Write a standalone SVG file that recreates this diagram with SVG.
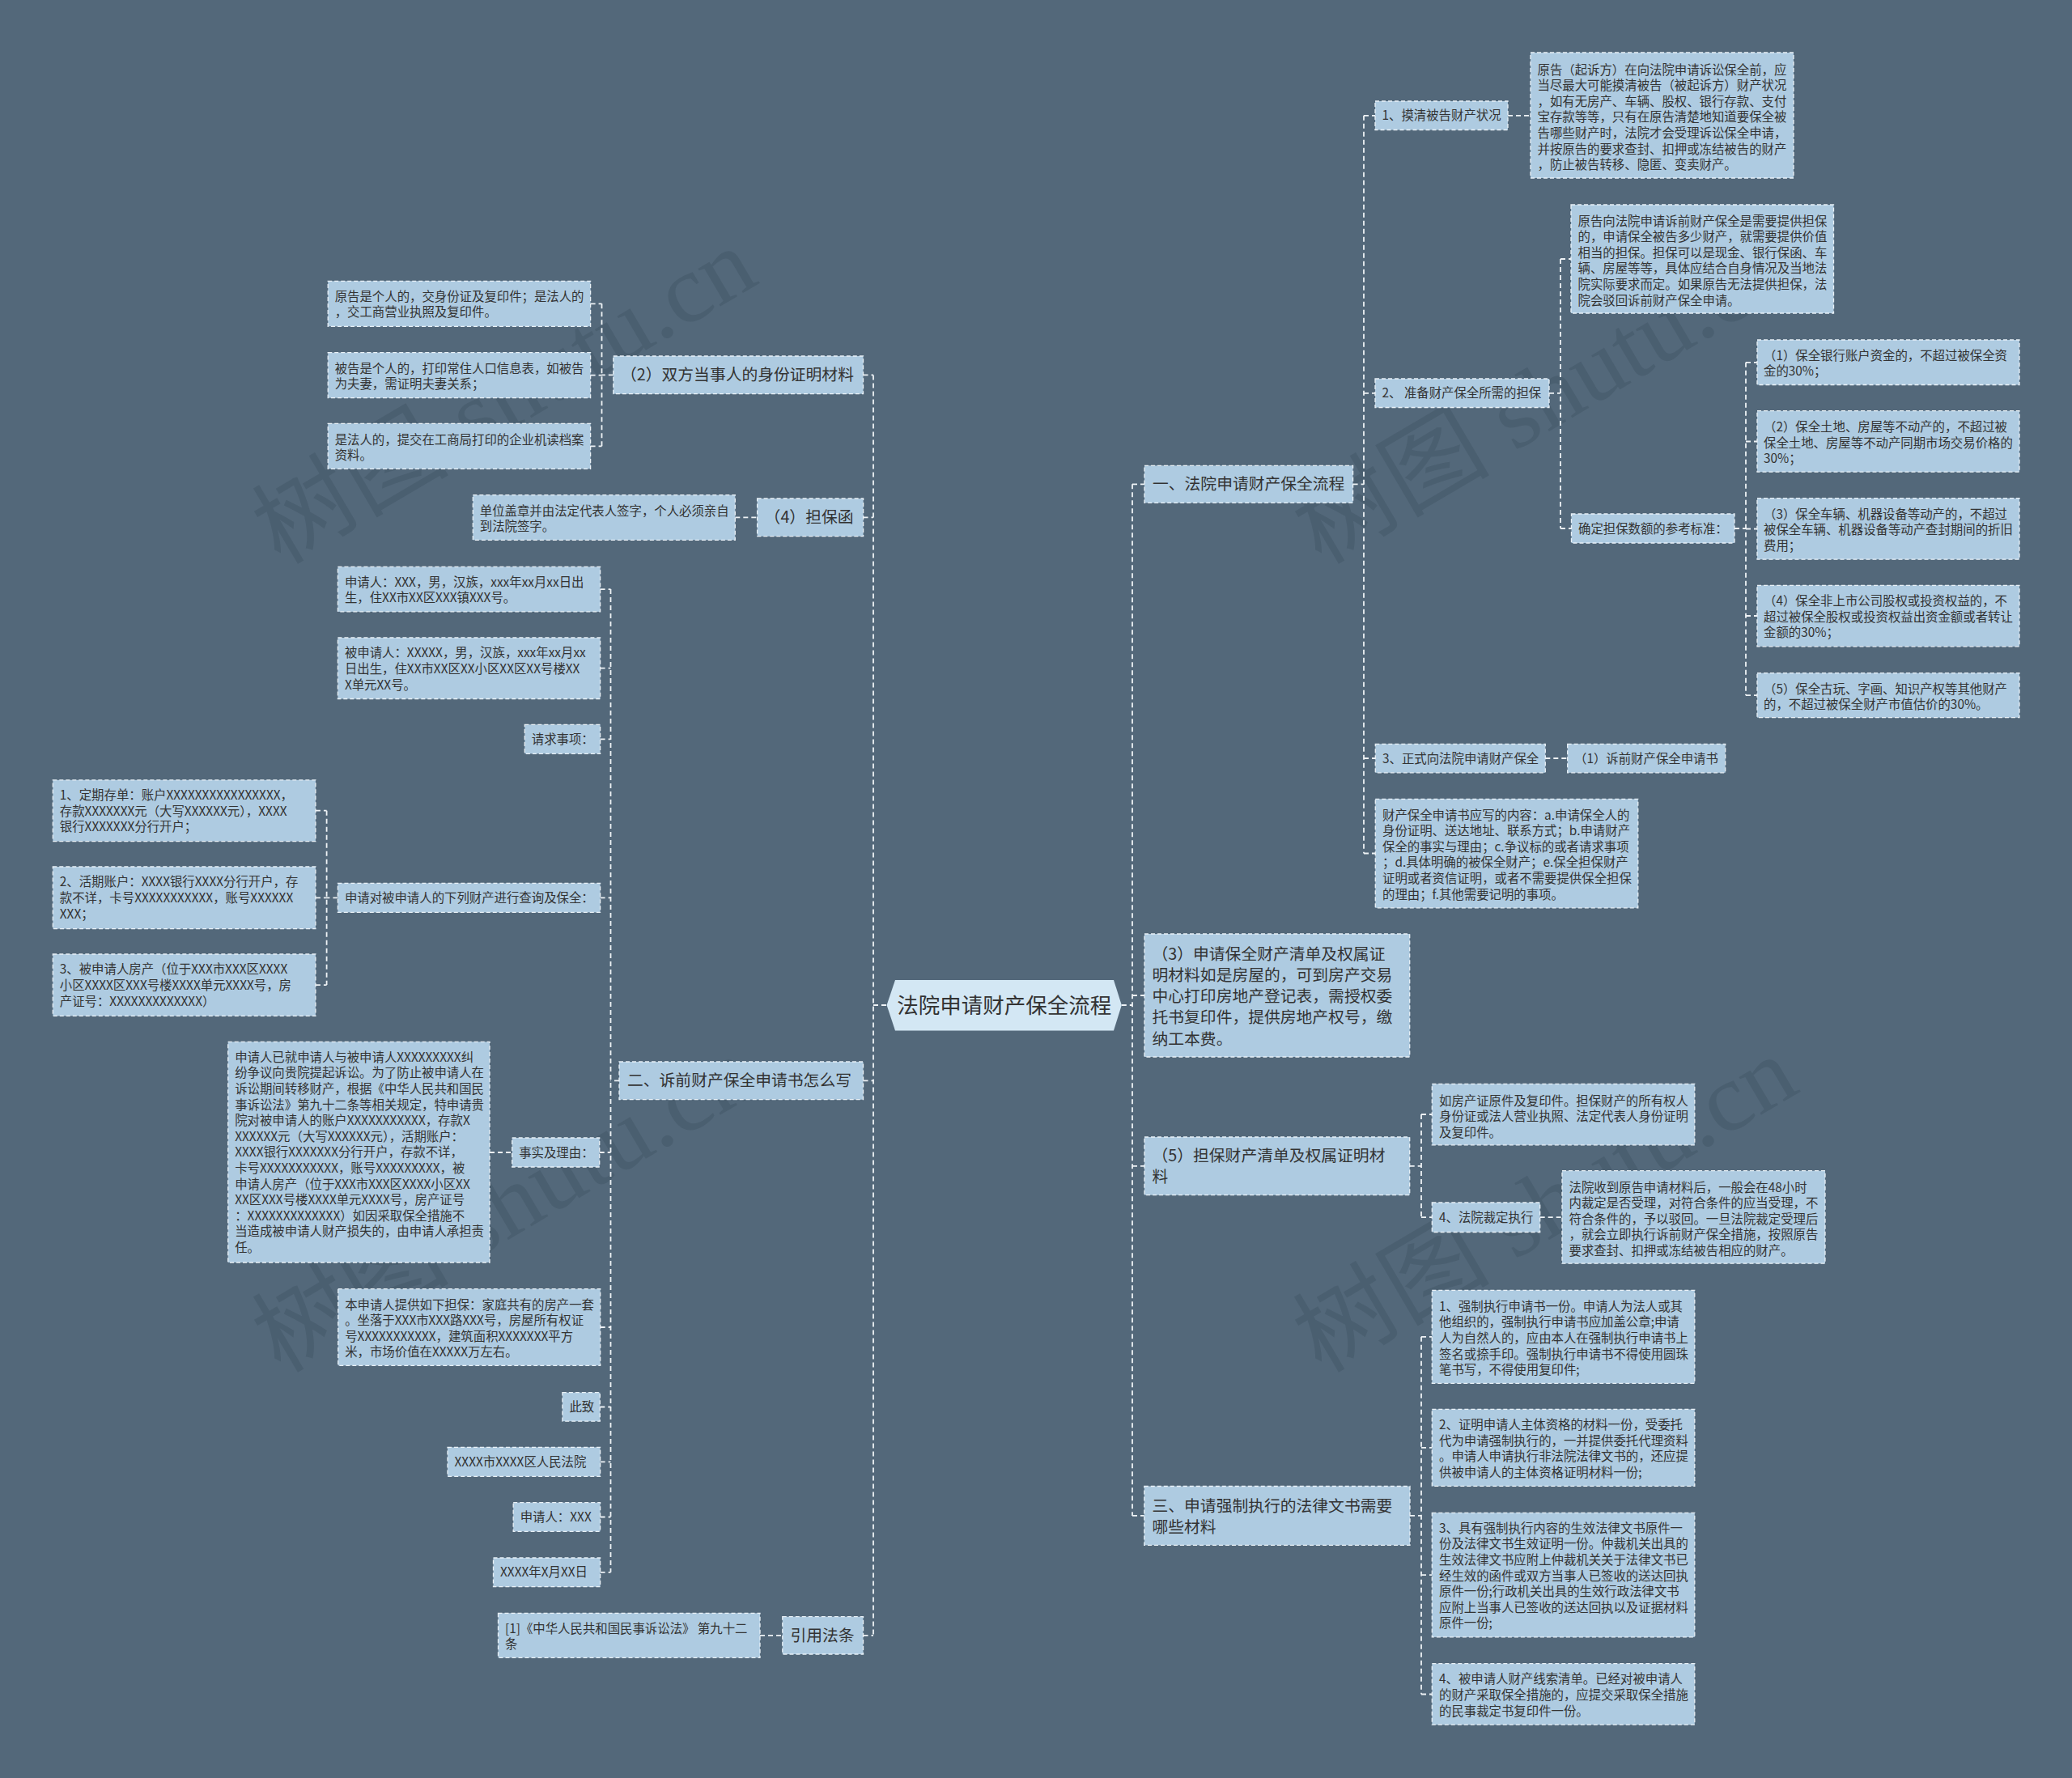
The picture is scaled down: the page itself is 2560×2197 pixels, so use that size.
<svg xmlns="http://www.w3.org/2000/svg" width="2560" height="2197" viewBox="0 0 2560 2197">
<style>
.bg{fill:#53687a}
.box{fill:#aecbe1;stroke:#e8f0f6;stroke-width:1.3;stroke-dasharray:5 3}
.ctr{fill:#d3e7f4}
.t{font-family:"Noto Sans CJK SC","Noto Sans",sans-serif;font-size:15.4px;fill:#333}
.m{font-size:19.8px}
.c{font-size:26.5px}
.ln{fill:none;stroke:#eef2f5;stroke-width:1.8;stroke-dasharray:6 4}
.wm{font-family:"Liberation Serif","Noto Sans CJK SC",serif;font-size:118px;fill:#2c3e4c;fill-opacity:0.22}
</style>
<rect class="bg" x="0" y="0" width="2560" height="2197"/>
<g id="watermarks">
<text class="wm" transform="translate(346,699) rotate(-30.5)" textLength="690" lengthAdjust="spacingAndGlyphs">树图 shutu.cn</text>
<text class="wm" transform="translate(1632,699) rotate(-30.5)" textLength="690" lengthAdjust="spacingAndGlyphs">树图 shutu.cn</text>
<text class="wm" transform="translate(346,1698) rotate(-30.5)" textLength="690" lengthAdjust="spacingAndGlyphs">树图 shutu.cn</text>
<text class="wm" transform="translate(1632,1698) rotate(-30.5)" textLength="690" lengthAdjust="spacingAndGlyphs">树图 shutu.cn</text>
</g>
<g id="connectors">
<path class="ln" d="M1079 463.4V2020.9M1066.5 463.4H1079M1066.5 639.4H1079M1066.5 1335.4H1079M1066.5 2020.9H1079M1079 1242H1095.6"/>
<path class="ln" d="M757.8 463.4H743.5M743.5 375.3V551.3M729.6 375.3H743.5M729.6 463.7H743.5M729.6 551.3H743.5"/>
<path class="ln" d="M908.3 639.4H935.6"/>
<path class="ln" d="M765 1335.4H754.5M754.5 728.1V1942.8M741.6 728.1H754.5M741.6 825.7H754.5M741.6 913.3H754.5M741.6 1109.4H754.5M740.7 1424H754.5M741.7 1640H754.5M741.3 1738.5H754.5M741.6 1806.3H754.5M741.6 1874.5H754.5M741.6 1942.8H754.5"/>
<path class="ln" d="M417.4 1109.4H403.6M403.6 1001.7V1217.1M389.9 1001.7H403.6M389.9 1109.3H403.6M389.9 1217.1H403.6"/>
<path class="ln" d="M605 1424H632.7"/>
<path class="ln" d="M939 2020.9H966.8"/>
<path class="ln" d="M1385.8 1242H1399M1399 598.3V1872.9M1399 598.3H1414M1399 1230H1414M1399 1440.8H1414M1399 1872.9H1413.8"/>
<path class="ln" d="M1671.6 598.3H1685M1685 142.8V1054.5M1685 142.8H1699M1685 485.8H1699M1685 937H1699.3M1685 1054.5H1699.3"/>
<path class="ln" d="M1863 142.8H1891"/>
<path class="ln" d="M1914 485.8H1928M1928 320V653M1928 320H1941M1928 653H1941.5"/>
<path class="ln" d="M2143 653H2157M2157 447.8V859.2M2157 447.8H2171M2157 545.5H2171M2157 653.5H2171M2157 761H2171M2157 859.2H2171"/>
<path class="ln" d="M1909.3 937H1936.7"/>
<path class="ln" d="M1741.7 1440.8H1756M1756 1377V1504.2M1756 1377H1769.3M1756 1504.2H1769.3M1902.7 1504.2H1930"/>
<path class="ln" d="M1742 1872.9H1756M1756 1651.8V2093.5M1756 1651.8H1769.3M1756 1788.9H1769.3M1756 1946.1H1769.3M1756 2093.5H1769.3"/>
</g>
<g id="center">
<polygon class="ctr" points="1095.6,1242 1106,1211 1376,1211 1385.8,1242 1376,1273.4 1106,1273.4"/>
<text class="t c" x="1240.7" y="1251.5" text-anchor="middle">法院申请财产保全流程</text>
</g>
<g id="n-yi"><rect class="box" x="1414" y="575.3" width="257.6" height="46"/><text class="t m" x="1424" y="605.3">一、法院申请财产保全流程</text></g>
<g id="n-r1"><rect class="box" x="1699" y="125" width="164" height="35.5"/><text class="t" x="1707.5" y="148.4">1、摸清被告财产状况</text></g>
<g id="n-r1a"><rect class="box" x="1891" y="65" width="325" height="155"/><text class="t" y="91.5"><tspan x="1899.5">原告（起诉方）在向法院申请诉讼保全前，应</tspan><tspan x="1899.5" dy="19.6">当尽最大可能摸清被告（被起诉方）财产状况</tspan><tspan x="1899.5" dy="19.6">，如有无房产、车辆、股权、银行存款、支付</tspan><tspan x="1899.5" dy="19.6">宝存款等等，只有在原告清楚地知道要保全被</tspan><tspan x="1899.5" dy="19.6">告哪些财产时，法院才会受理诉讼保全申请，</tspan><tspan x="1899.5" dy="19.6">并按原告的要求查封、扣押或冻结被告的财产</tspan><tspan x="1899.5" dy="19.6">，防止被告转移、隐匿、变卖财产。</tspan></text></g>
<g id="n-r2"><rect class="box" x="1699" y="468" width="215" height="35.5"/><text class="t" x="1707.5" y="491.4">2、 准备财产保全所需的担保</text></g>
<g id="n-r2a"><rect class="box" x="1941" y="253" width="324.5" height="134"/><text class="t" y="278.5"><tspan x="1949.5">原告向法院申请诉前财产保全是需要提供担保</tspan><tspan x="1949.5" dy="19.6">的，申请保全被告多少财产，就需要提供价值</tspan><tspan x="1949.5" dy="19.6">相当的担保。担保可以是现金、银行保函、车</tspan><tspan x="1949.5" dy="19.6">辆、房屋等等，具体应结合自身情况及当地法</tspan><tspan x="1949.5" dy="19.6">院实际要求而定。如果原告无法提供担保，法</tspan><tspan x="1949.5" dy="19.6">院会驳回诉前财产保全申请。</tspan></text></g>
<g id="n-r2b"><rect class="box" x="1941.5" y="635" width="201.5" height="36"/><text class="t" x="1950" y="658.6">确定担保数额的参考标准：</text></g>
<g id="n-s1"><rect class="box" x="2171" y="420" width="324" height="55.5"/><text class="t" y="444.5"><tspan x="2179">（1）保全银行账户资金的，不超过被保全资</tspan><tspan x="2179" dy="19.6">金的30%；</tspan></text></g>
<g id="n-s2"><rect class="box" x="2171" y="507.7" width="324" height="75.5"/><text class="t" y="533"><tspan x="2179">（2）保全土地、房屋等不动产的，不超过被</tspan><tspan x="2179" dy="19.6">保全土地、房屋等不动产同期市场交易价格的</tspan><tspan x="2179" dy="19.6">30%；</tspan></text></g>
<g id="n-s3"><rect class="box" x="2171" y="615.7" width="324" height="75.5"/><text class="t" y="640.8"><tspan x="2179">（3）保全车辆、机器设备等动产的，不超过</tspan><tspan x="2179" dy="19.6">被保全车辆、机器设备等动产查封期间的折旧</tspan><tspan x="2179" dy="19.6">费用；</tspan></text></g>
<g id="n-s4"><rect class="box" x="2171" y="723.3" width="324" height="75.5"/><text class="t" y="748"><tspan x="2179">（4）保全非上市公司股权或投资权益的，不</tspan><tspan x="2179" dy="19.6">超过被保全股权或投资权益出资金额或者转让</tspan><tspan x="2179" dy="19.6">金额的30%；</tspan></text></g>
<g id="n-s5"><rect class="box" x="2171" y="831.7" width="324" height="55"/><text class="t" y="856.5"><tspan x="2179">（5）保全古玩、字画、知识产权等其他财产</tspan><tspan x="2179" dy="19.6">的，不超过被保全财产市值估价的30%。</tspan></text></g>
<g id="n-r3"><rect class="box" x="1699.3" y="919.3" width="210" height="35.5"/><text class="t" x="1708" y="942.6">3、正式向法院申请财产保全</text></g>
<g id="n-r3a"><rect class="box" x="1936.7" y="919.3" width="195" height="35.5"/><text class="t" x="1945" y="942.6">（1）诉前财产保全申请书</text></g>
<g id="n-r4"><rect class="box" x="1699.3" y="987.3" width="324.5" height="134.5"/><text class="t" y="1012.5"><tspan x="1708">财产保全申请书应写的内容：a.申请保全人的</tspan><tspan x="1708" dy="19.6">身份证明、送达地址、联系方式；b.申请财产</tspan><tspan x="1708" dy="19.6">保全的事实与理由；c.争议标的或者请求事项</tspan><tspan x="1708" dy="19.6">；d.具体明确的被保全财产；e.保全担保财产</tspan><tspan x="1708" dy="19.6">证明或者资信证明，或者不需要提供保全担保</tspan><tspan x="1708" dy="19.6">的理由；f.其他需要记明的事项。</tspan></text></g>
<g id="n-p3"><rect class="box" x="1414" y="1154" width="327.7" height="152"/><text class="t m" y="1185.5"><tspan x="1423.5">（3）申请保全财产清单及权属证</tspan><tspan x="1423.5" dy="26.3">明材料如是房屋的，可到房产交易</tspan><tspan x="1423.5" dy="26.3">中心打印房地产登记表，需授权委</tspan><tspan x="1423.5" dy="26.3">托书复印件，提供房地产权号，缴</tspan><tspan x="1423.5" dy="26.3">纳工本费。</tspan></text></g>
<g id="n-p5"><rect class="box" x="1414" y="1405" width="327.7" height="71.7"/><text class="t m" y="1435"><tspan x="1423.5">（5）担保财产清单及权属证明材</tspan><tspan x="1423.5" dy="26.3">料</tspan></text></g>
<g id="n-p5a"><rect class="box" x="1769.3" y="1339.3" width="324.5" height="75.5"/><text class="t" y="1365.8"><tspan x="1778">如房产证原件及复印件。担保财产的所有权人</tspan><tspan x="1778" dy="19.6">身份证或法人营业执照、法定代表人身份证明</tspan><tspan x="1778" dy="19.6">及复印件。</tspan></text></g>
<g id="n-p5b"><rect class="box" x="1769.3" y="1486" width="133.4" height="36.5"/><text class="t" x="1778" y="1509.8">4、法院裁定执行</text></g>
<g id="n-p5c"><rect class="box" x="1930" y="1446.7" width="325" height="114.5"/><text class="t" y="1472.5"><tspan x="1938.5">法院收到原告申请材料后，一般会在48小时</tspan><tspan x="1938.5" dy="19.6">内裁定是否受理，对符合条件的应当受理，不</tspan><tspan x="1938.5" dy="19.6">符合条件的，予以驳回。一旦法院裁定受理后</tspan><tspan x="1938.5" dy="19.6">，就会立即执行诉前财产保全措施，按照原告</tspan><tspan x="1938.5" dy="19.6">要求查封、扣押或冻结被告相应的财产。</tspan></text></g>
<g id="n-san"><rect class="box" x="1413.8" y="1836.5" width="328.2" height="72.8"/><text class="t m" y="1867.7"><tspan x="1423.5">三、申请强制执行的法律文书需要</tspan><tspan x="1423.5" dy="26.3">哪些材料</tspan></text></g>
<g id="n-b1"><rect class="box" x="1769.3" y="1594.3" width="324.5" height="115"/><text class="t" y="1619.8"><tspan x="1778">1、强制执行申请书一份。申请人为法人或其</tspan><tspan x="1778" dy="19.6">他组织的，强制执行申请书应加盖公章;申请</tspan><tspan x="1778" dy="19.6">人为自然人的，应由本人在强制执行申请书上</tspan><tspan x="1778" dy="19.6">签名或捺手印。强制执行申请书不得使用圆珠</tspan><tspan x="1778" dy="19.6">笔书写，不得使用复印件;</tspan></text></g>
<g id="n-b2"><rect class="box" x="1769.3" y="1741.4" width="324.5" height="95"/><text class="t" y="1766.2"><tspan x="1778">2、证明申请人主体资格的材料一份，受委托</tspan><tspan x="1778" dy="19.6">代为申请强制执行的，一并提供委托代理资料</tspan><tspan x="1778" dy="19.6">。申请人申请执行非法院法律文书的，还应提</tspan><tspan x="1778" dy="19.6">供被申请人的主体资格证明材料一份;</tspan></text></g>
<g id="n-b3"><rect class="box" x="1769.3" y="1869.3" width="324.5" height="153.6"/><text class="t" y="1893.7"><tspan x="1778">3、具有强制执行内容的生效法律文书原件一</tspan><tspan x="1778" dy="19.6">份及法律文书生效证明一份。仲裁机关出具的</tspan><tspan x="1778" dy="19.6">生效法律文书应附上仲裁机关关于法律文书已</tspan><tspan x="1778" dy="19.6">经生效的函件或双方当事人已签收的送达回执</tspan><tspan x="1778" dy="19.6">原件一份;行政机关出具的生效行政法律文书</tspan><tspan x="1778" dy="19.6">应附上当事人已签收的送达回执以及证据材料</tspan><tspan x="1778" dy="19.6">原件一份;</tspan></text></g>
<g id="n-b4"><rect class="box" x="1769.3" y="2055.7" width="324.5" height="75.5"/><text class="t" y="2080.4"><tspan x="1778">4、被申请人财产线索清单。已经对被申请人</tspan><tspan x="1778" dy="19.6">的财产采取保全措施的，应提交采取保全措施</tspan><tspan x="1778" dy="19.6">的民事裁定书复印件一份。</tspan></text></g>
<g id="n-l2"><rect class="box" x="757.8" y="440" width="308.7" height="46.7"/><text class="t m" x="767" y="470.4">（2）双方当事人的身份证明材料</text></g>
<g id="n-l2a"><rect class="box" x="405.2" y="347.3" width="324.4" height="56"/><text class="t" y="371.8"><tspan x="413.7">原告是个人的，交身份证及复印件；是法人的</tspan><tspan x="413.7" dy="19.6">，交工商营业执照及复印件。</tspan></text></g>
<g id="n-l2b"><rect class="box" x="405.2" y="435.7" width="324.4" height="56"/><text class="t" y="460.8"><tspan x="413.7">被告是个人的，打印常住人口信息表，如被告</tspan><tspan x="413.7" dy="19.6">为夫妻，需证明夫妻关系；</tspan></text></g>
<g id="n-l2c"><rect class="box" x="405.2" y="523.3" width="324.4" height="56"/><text class="t" y="548.5"><tspan x="413.7">是法人的，提交在工商局打印的企业机读档案</tspan><tspan x="413.7" dy="19.6">资料。</tspan></text></g>
<g id="n-l4"><rect class="box" x="935.6" y="616" width="131" height="46.7"/><text class="t m" x="944.6" y="646.4">（4）担保函</text></g>
<g id="n-l4a"><rect class="box" x="584.3" y="611.7" width="324" height="55.6"/><text class="t" y="636.5"><tspan x="592.8">单位盖章并由法定代表人签字，个人必须亲自</tspan><tspan x="592.8" dy="19.6">到法院签字。</tspan></text></g>
<g id="n-er"><rect class="box" x="765" y="1312" width="301.5" height="46.7"/><text class="t m" x="775" y="1342.4">二、诉前财产保全申请书怎么写</text></g>
<g id="n-e1"><rect class="box" x="417.4" y="700.4" width="324.2" height="55.5"/><text class="t" y="724.7"><tspan x="425.9">申请人：XXX，男，汉族，xxx年xx月xx日出</tspan><tspan x="425.9" dy="19.6">生，住XX市XX区XXX镇XXX号。</tspan></text></g>
<g id="n-e2"><rect class="box" x="417.4" y="788" width="324.2" height="75.5"/><text class="t" y="812.3"><tspan x="425.9">被申请人：XXXXX，男，汉族，xxx年xx月xx</tspan><tspan x="425.9" dy="19.6">日出生，住XX市XX区XX小区XX区XX号楼XX</tspan><tspan x="425.9" dy="19.6">X单元XX号。</tspan></text></g>
<g id="n-e3"><rect class="box" x="648.3" y="895.3" width="93.3" height="36"/><text class="t" x="656.8" y="918.9">请求事项：</text></g>
<g id="n-e4"><rect class="box" x="417.4" y="1091.4" width="324.2" height="36"/><text class="t" x="425.9" y="1115">申请对被申请人的下列财产进行查询及保全：</text></g>
<g id="n-e4a"><rect class="box" x="65.3" y="963.8" width="324.6" height="75.8"/><text class="t" y="988.1"><tspan x="73.8">1、定期存单：账户XXXXXXXXXXXXXXXX，</tspan><tspan x="73.8" dy="19.6">存款XXXXXXX元（大写XXXXXX元），XXXX</tspan><tspan x="73.8" dy="19.6">银行XXXXXXX分行开户；</tspan></text></g>
<g id="n-e4b"><rect class="box" x="65.3" y="1071" width="324.6" height="76.6"/><text class="t" y="1095.4"><tspan x="73.8">2、活期账户：XXXX银行XXXX分行开户，存</tspan><tspan x="73.8" dy="19.6">款不详，卡号XXXXXXXXXXX，账号XXXXXX</tspan><tspan x="73.8" dy="19.6">XXX；</tspan></text></g>
<g id="n-e4c"><rect class="box" x="65.3" y="1179" width="324.6" height="76.3"/><text class="t" y="1203.4"><tspan x="73.8">3、被申请人房产（位于XXX市XXX区XXXX</tspan><tspan x="73.8" dy="19.6">小区XXXX区XXX号楼XXXX单元XXXX号，房</tspan><tspan x="73.8" dy="19.6">产证号：XXXXXXXXXXXXX）</tspan></text></g>
<g id="n-e5"><rect class="box" x="632.7" y="1406" width="108" height="36"/><text class="t" x="641.2" y="1429.6">事实及理由：</text></g>
<g id="n-e5a"><rect class="box" x="281.7" y="1287.3" width="323.3" height="272.7"/><text class="t" y="1311.8"><tspan x="290.2">申请人已就申请人与被申请人XXXXXXXXX纠</tspan><tspan x="290.2" dy="19.6">纷争议向贵院提起诉讼。为了防止被申请人在</tspan><tspan x="290.2" dy="19.6">诉讼期间转移财产，根据《中华人民共和国民</tspan><tspan x="290.2" dy="19.6">事诉讼法》第九十二条等相关规定，特申请贵</tspan><tspan x="290.2" dy="19.6">院对被申请人的账户XXXXXXXXXXX，存款X</tspan><tspan x="290.2" dy="19.6">XXXXXX元（大写XXXXXX元），活期账户：</tspan><tspan x="290.2" dy="19.6">XXXX银行XXXXXXX分行开户，存款不详，</tspan><tspan x="290.2" dy="19.6">卡号XXXXXXXXXXX，账号XXXXXXXXX，被</tspan><tspan x="290.2" dy="19.6">申请人房产（位于XXX市XXX区XXXX小区XX</tspan><tspan x="290.2" dy="19.6">XX区XXX号楼XXXX单元XXXX号，房产证号</tspan><tspan x="290.2" dy="19.6">：XXXXXXXXXXXXX）如因采取保全措施不</tspan><tspan x="290.2" dy="19.6">当造成被申请人财产损失的，由申请人承担责</tspan><tspan x="290.2" dy="19.6">任。</tspan></text></g>
<g id="n-e6"><rect class="box" x="417.7" y="1592.7" width="324" height="94.6"/><text class="t" y="1617.5"><tspan x="426.2">本申请人提供如下担保：家庭共有的房产一套</tspan><tspan x="426.2" dy="19.6">。坐落于XXX市XXX路XXX号，房屋所有权证</tspan><tspan x="426.2" dy="19.6">号XXXXXXXXXXX，建筑面积XXXXXXX平方</tspan><tspan x="426.2" dy="19.6">米，市场价值在XXXXX万左右。</tspan></text></g>
<g id="n-e7"><rect class="box" x="694.9" y="1720.7" width="46.4" height="35.5"/><text class="t" x="703.4" y="1744.1">此致</text></g>
<g id="n-e8"><rect class="box" x="553" y="1788.3" width="188.6" height="36"/><text class="t" x="561.5" y="1811.9">XXXX市XXXX区人民法院</text></g>
<g id="n-e9"><rect class="box" x="634.2" y="1856.7" width="107.4" height="35.6"/><text class="t" x="642.7" y="1880.1">申请人：XXX</text></g>
<g id="n-e10"><rect class="box" x="609.5" y="1925" width="132.1" height="35.7"/><text class="t" x="618" y="1948.4">XXXX年X月XX日</text></g>
<g id="n-law"><rect class="box" x="966.8" y="1997.7" width="99.7" height="46.3"/><text class="t m" x="976.5" y="2027.9">引用法条</text></g>
<g id="n-lawa"><rect class="box" x="615.5" y="1993.3" width="323.5" height="55"/><text class="t" y="2017.5"><tspan x="624">[1]《中华人民共和国民事诉讼法》 第九十二</tspan><tspan x="624" dy="19.6">条</tspan></text></g>
</svg>
